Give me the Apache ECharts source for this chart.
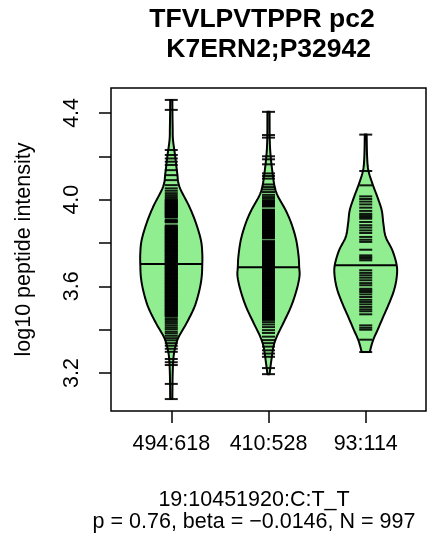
<!DOCTYPE html>
<html><head><meta charset="utf-8">
<script src="https://cdn.jsdelivr.net/npm/echarts@6/dist/echarts.min.js"></script>
<style>html,body{margin:0;padding:0;background:#fff}#c{width:432px;height:543px}</style>
</head><body><div id="c"></div>
<script>
// ---------------- data ----------------
const categories = ['494:618', '410:528', '93:114'];
const titleLines = ['TFVLPVTPPR pc2', ' K7ERN2;P32942'];
const subLines = ['19:10451920:C:T_T', 'p = 0.76, beta = \u22120.0146, N = 997'];
const yName = 'log10 peptide intensity';
const yTicks = [3.2, 3.4, 3.6, 3.8, 4.0, 4.2, 4.4];
const yTickLabels = [3.2, 3.6, 4.0, 4.4];
const medians = [3.703, 3.688, 3.697];

// density outline (value level, relative density)
const densLevels1 = [4.46, 4.40, 4.33, 4.275, 4.198, 4.121, 4.059, 3.967, 3.890, 3.812, 3.751, 3.703, 3.643, 3.581, 3.504, 3.427, 3.365, 3.319, 3.273, 3.196, 3.080];
const densRel1    = [0.035, 0.038, 0.045, 0.056, 0.128, 0.192, 0.265, 0.585, 0.80, 0.958, 1.0, 1.0, 0.98, 0.905, 0.745, 0.48, 0.233, 0.128, 0.073, 0.045, 0.035];
const densLevels2 = [4.405, 4.279, 4.202, 4.124, 4.063, 4.017, 3.955, 3.893, 3.816, 3.739, 3.688, 3.647, 3.585, 3.508, 3.431, 3.369, 3.323, 3.277, 3.230, 3.195];
const densRel2    = [0.035, 0.04, 0.068, 0.13, 0.194, 0.30, 0.54, 0.73, 0.89, 0.97, 0.99, 1.0, 0.91, 0.73, 0.48, 0.27, 0.16, 0.11, 0.065, 0.035];
const densLevels3 = [4.30, 4.197, 4.135, 4.074, 4.012, 3.951, 3.889, 3.828, 3.766, 3.697, 3.643, 3.582, 3.520, 3.458, 3.397, 3.351, 3.297];
const densRel3    = [0.03, 0.045, 0.086, 0.215, 0.377, 0.516, 0.57, 0.645, 0.86, 1.0, 1.0, 0.913, 0.75, 0.56, 0.377, 0.236, 0.129];

const beans1 = [4.46, 4.414, 4.229, 4.206, 4.19, 4.175, 4.16, 4.136, 4.113, 4.09, 4.067, 4.052, 4.041, 4.03, 4.021, 4.012, 4.004,
  3.998, 3.994, 3.991, 3.987, 3.983, 3.98, 3.976, 3.973, 3.969, 3.966, 3.962, 3.959, 3.956, 3.952, 3.948, 3.945, 3.942, 3.938, 3.935,
  3.931, 3.928, 3.924, 3.92, 3.917, 3.906, 3.902, 3.899, 3.895, 3.881, 3.877, 3.874, 3.87, 3.866, 3.863, 3.86, 3.856, 3.852, 3.849,
  3.846, 3.842, 3.839, 3.835, 3.831, 3.828, 3.825, 3.821, 3.818, 3.814, 3.81, 3.807, 3.804, 3.8, 3.797, 3.793, 3.789, 3.786, 3.783,
  3.779, 3.776, 3.772, 3.768, 3.765, 3.762, 3.758, 3.755, 3.751, 3.747, 3.744, 3.741, 3.737, 3.734, 3.73, 3.726, 3.723, 3.72, 3.716,
  3.713, 3.709, 3.705, 3.702, 3.699, 3.695, 3.692, 3.688, 3.684, 3.681, 3.678, 3.674, 3.671, 3.667, 3.663, 3.66, 3.657, 3.653, 3.65,
  3.646, 3.642, 3.639, 3.636, 3.632, 3.629, 3.625, 3.621, 3.618, 3.615, 3.611, 3.608, 3.604, 3.6, 3.597, 3.594, 3.59, 3.587, 3.583,
  3.579, 3.576, 3.573, 3.569, 3.566, 3.562, 3.558, 3.555, 3.552, 3.548, 3.545, 3.541, 3.537, 3.534, 3.531, 3.527, 3.524, 3.52, 3.516,
  3.513, 3.51, 3.506, 3.503, 3.499, 3.495, 3.492, 3.489, 3.485, 3.482, 3.478, 3.474, 3.471, 3.468, 3.464, 3.461,
  3.452, 3.445, 3.436, 3.428, 3.419, 3.41, 3.402, 3.391, 3.383, 3.372, 3.361, 3.351, 3.338, 3.326, 3.312, 3.298,
  3.265, 3.25, 3.237, 3.15, 3.08];
const beans2 = [4.405, 4.298, 4.286, 4.2, 4.186, 4.163, 4.121, 4.109, 4.097, 4.07, 4.058, 4.047, 4.035, 4.022, 4.012, 4.004,
  3.996, 3.993, 3.989, 3.986, 3.982, 3.978, 3.975, 3.971, 3.968, 3.954, 3.951, 3.947, 3.944, 3.94, 3.936, 3.933, 3.929, 3.926, 3.922,
  3.919, 3.915, 3.912, 3.908, 3.905, 3.901, 3.898, 3.894, 3.891, 3.887, 3.884, 3.88, 3.877, 3.873, 3.87, 3.866, 3.863, 3.859, 3.856,
  3.852, 3.849, 3.845, 3.842, 3.838, 3.835, 3.831, 3.828, 3.824, 3.821, 3.809, 3.805, 3.802, 3.798, 3.795, 3.791, 3.788, 3.784, 3.781,
  3.777, 3.774, 3.77, 3.767, 3.763, 3.76, 3.756, 3.753, 3.749, 3.746, 3.742, 3.739, 3.735, 3.732, 3.728, 3.725, 3.721, 3.718, 3.714,
  3.711, 3.707, 3.704, 3.7, 3.697, 3.693, 3.69, 3.686, 3.683, 3.679, 3.676, 3.672, 3.669, 3.665, 3.662, 3.658, 3.655, 3.651, 3.648,
  3.644, 3.641, 3.637, 3.634, 3.63, 3.627, 3.623, 3.62, 3.616, 3.613, 3.609, 3.606, 3.602, 3.599, 3.595, 3.592, 3.588, 3.585, 3.581,
  3.578, 3.574, 3.571, 3.567, 3.564, 3.56, 3.557, 3.553, 3.55, 3.546, 3.543, 3.539, 3.536, 3.532, 3.529, 3.525, 3.522, 3.518, 3.515,
  3.511, 3.508, 3.504, 3.501, 3.497, 3.494, 3.49, 3.487, 3.483, 3.48, 3.476, 3.473, 3.469, 3.466, 3.462, 3.459, 3.455, 3.452, 3.448, 3.445,
  3.435, 3.424, 3.412, 3.398, 3.385, 3.368, 3.352, 3.338, 3.322, 3.305, 3.29, 3.275, 3.223, 3.195];
const beans3 = [4.300, 4.132, 4.066, 4.015, 4.003, 3.991, 3.978, 3.963, 3.948, 3.935, 3.928, 3.920, 3.912, 3.897, 3.882, 3.871, 3.858,
  3.846, 3.828, 3.815, 3.805, 3.769, 3.743, 3.735, 3.728, 3.720, 3.674, 3.662, 3.651, 3.640, 3.628, 3.615, 3.605, 3.589, 3.582,
  3.574, 3.563, 3.551, 3.538, 3.528, 3.517, 3.505, 3.494, 3.485, 3.471, 3.420, 3.409, 3.400, 3.354, 3.297];

// ---------------- rendering ----------------
const FONT = 'Liberation Sans, Arial, Helvetica, sans-serif';
const MAXW = 31;      // px half width of the widest bean
const BEANW = 6.5;    // px half length of bean lines
const densLevels = [densLevels1, densLevels2, densLevels3];
const densRel = [densRel1, densRel2, densRel3];
const beansAll = [beans1, beans2, beans3];

function catmull(pts, n) {
  const out = [];
  for (let i = 0; i < pts.length - 1; i++) {
    const p0 = pts[Math.max(i - 1, 0)], p1 = pts[i], p2 = pts[i + 1], p3 = pts[Math.min(i + 2, pts.length - 1)];
    for (let k = 0; k < n; k++) {
      const t = k / n, t2 = t * t, t3 = t2 * t;
      const f = (a, b, c, d) => 0.5 * ((2 * b) + (-a + c) * t + (2 * a - 5 * b + 4 * c - d) * t2 + (-a + 3 * b - 3 * c + d) * t3);
      out.push([f(p0[0], p1[0], p2[0], p3[0]), f(p0[1], p1[1], p2[1], p3[1])]);
    }
  }
  out.push(pts[pts.length - 1]);
  return out;
}
function relAt(g, v) {
  const lv = densLevels[g], r = densRel[g];
  for (let i = 0; i < lv.length - 1; i++) {
    if (v <= lv[i] && v >= lv[i + 1]) {
      const t = (lv[i] - v) / (lv[i] - lv[i + 1]);
      return r[i] + t * (r[i + 1] - r[i]);
    }
  }
  return 0;
}

const violinData = categories.map((c, i) => [i + 1, medians[i]]);
const beanData = [];
beansAll.forEach((arr, g) => arr.forEach(v => beanData.push([g + 1, v])));

const option = {
  animation: false,
  backgroundColor: '#fff',
  textStyle: { fontFamily: FONT },
  grid: { left: 111, right: 6, top: 88, bottom: 132, show: true, borderColor: '#000', borderWidth: 1.5, backgroundColor: 'transparent' },
  xAxis: {
    type: 'value', min: 0.38, max: 3.62,
    axisLine: { show: false },
    splitLine: { show: false },
    axisTick: { show: true, length: 12, lineStyle: { color: '#000', width: 1.5 }, customValues: [1, 2, 3] },
    axisLabel: { customValues: [1, 2, 3], margin: 22, color: '#000', fontSize: 21.5, fontFamily: FONT,
      formatter: v => categories[Math.round(v) - 1] }
  },
  yAxis: {
    type: 'value', min: 3.025, max: 4.515,
    name: yName, nameLocation: 'middle', nameRotate: 90, nameGap: 76,
    nameTextStyle: { color: '#000', fontSize: 21.5, fontFamily: FONT },
    axisLine: { show: false },
    splitLine: { show: false },
    axisTick: { show: true, length: 12, lineStyle: { color: '#000', width: 1.5 }, customValues: yTicks },
    axisLabel: { customValues: yTickLabels, rotate: 90, margin: 28, color: '#000', fontSize: 21.5, fontFamily: FONT,
      formatter: v => v.toFixed(1) }
  },
  graphic: [
    { type: 'text', x: 262, y: 20, style: { text: titleLines[0], font: 'bold 26.5px ' + FONT, fill: '#000', align: 'center', verticalAlign: 'middle' } },
    { type: 'text', x: 265, y: 50, style: { text: titleLines[1], font: 'bold 26.5px ' + FONT, fill: '#000', align: 'center', verticalAlign: 'middle' } },
    { type: 'text', x: 254, y: 500, style: { text: subLines[0], font: '21.5px ' + FONT, fill: '#000', align: 'center', verticalAlign: 'middle' } },
    { type: 'text', x: 254, y: 522, style: { text: subLines[1], font: '21.5px ' + FONT, fill: '#000', align: 'center', verticalAlign: 'middle' } }
  ],
  series: [
    {
      type: 'custom', z: 2, data: violinData, encode: { x: 0, y: 1 },
      renderItem: function (params, api) {
        const g = params.dataIndex;
        const lv = densLevels[g], r = densRel[g];
        const cx = api.coord([g + 1, lv[0]])[0];
        const left = [], right = [];
        for (let i = 0; i < lv.length; i++) {
          const y = api.coord([g + 1, lv[i]])[1];
          left.push([cx - r[i] * MAXW, y]);
          right.push([cx + r[i] * MAXW, y]);
        }
        const L = catmull(left, 8), R = catmull(right, 8).reverse();
        return { type: 'polygon', shape: { points: L.concat(R) },
          style: { fill: '#90EE90', stroke: '#000', lineWidth: 2, lineJoin: 'round' } };
      }
    },
    {
      type: 'custom', z: 3, data: beanData, encode: { x: 0, y: 1 },
      renderItem: function (params, api) {
        const p = api.coord([api.value(0), api.value(1)]);
        return { type: 'line', shape: { x1: p[0] - BEANW, y1: p[1], x2: p[0] + BEANW, y2: p[1] },
          style: { stroke: 'rgba(0,0,0,0.9)', lineWidth: 2 } };
      }
    },
    {
      type: 'custom', z: 4, data: violinData, encode: { x: 0, y: 1 },
      renderItem: function (params, api) {
        const g = params.dataIndex;
        const p = api.coord([api.value(0), api.value(1)]);
        const w = relAt(g, api.value(1)) * MAXW;
        return { type: 'line', shape: { x1: p[0] - w, y1: p[1], x2: p[0] + w, y2: p[1] },
          style: { stroke: '#000', lineWidth: 2 } };
      }
    }
  ]
};
const chart = echarts.init(document.getElementById('c'), null, { renderer: 'canvas' });
chart.setOption(option);
</script></body></html>
